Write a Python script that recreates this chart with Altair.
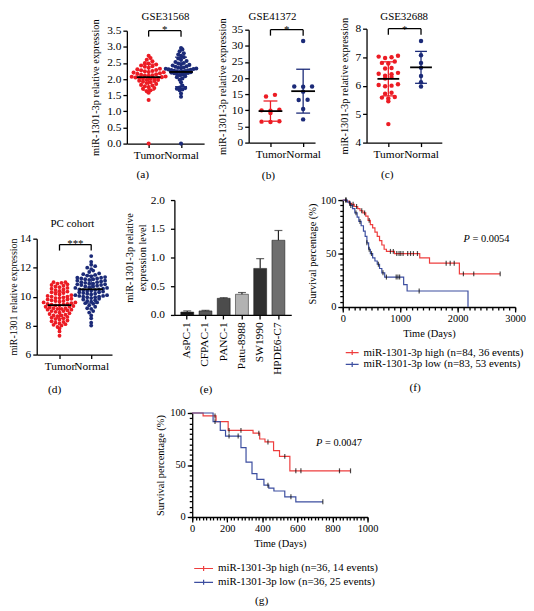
import altair as alt
import pandas as pd
import numpy as np

FONT = "Liberation Serif"
RED = "#EC1C24"
NAVY = "#1B2A78"
SRED = "#EE3E3E"
SBLUE = "#3C4EA0"

# ---------------- data ----------------
# (a) GSE31568
a_tumor = [0.0, 1.35, 1.58, 1.62, 1.65, 1.70, 1.72, 1.75, 1.78, 1.80, 1.82, 1.85, 1.88, 1.90, 1.92,
           1.94, 1.95, 1.97, 1.98, 2.00, 2.01, 2.02, 2.03, 2.04, 2.05, 2.06, 2.07, 2.08, 2.10, 2.11,
           2.12, 2.13, 2.15, 2.16, 2.18, 2.20, 2.21, 2.22, 2.24, 2.25, 2.27, 2.28, 2.30, 2.32, 2.35,
           2.38, 2.40, 2.42, 2.45, 2.48, 2.50, 2.55, 2.60, 2.65, 2.72]
a_normal = [0.0, 1.45, 1.55, 1.65, 1.68, 1.70, 1.72, 1.74, 1.80, 1.90, 1.98, 2.02, 2.06, 2.09, 2.12,
            2.14, 2.16, 2.17, 2.18, 2.19, 2.20, 2.21, 2.22, 2.23, 2.24, 2.25, 2.26, 2.27, 2.28, 2.29,
            2.30, 2.31, 2.32, 2.33, 2.34, 2.35, 2.36, 2.38, 2.40, 2.42, 2.44, 2.46, 2.48, 2.50, 2.53,
            2.56, 2.60, 2.64, 2.68, 2.72, 2.76, 2.80, 2.86, 2.92, 2.96]
# (b) GSE41372
b_tumor = [14.3, 14.8, 10.0, 10.2, 9.9, 9.2, 6.6, 6.4, 6.5]
b_normal = [31.5, 17.4, 17.4, 17.3, 15.8, 13.3, 13.2, 10.4, 7.2]
# (c) GSE32688
c_tumor = [7.05, 7.02, 7.0, 6.97, 6.85, 6.8, 6.78, 6.62, 6.6, 6.45, 6.42, 6.4, 6.35, 6.3, 6.25,
           6.05, 6.02, 6.0, 5.98, 5.75, 5.72, 5.6, 5.58, 5.55, 5.45, 4.65]
c_normal = [7.57, 7.07, 6.8, 6.63, 6.34, 6.12, 5.97]
# (d) PC cohort
d_tumor = [7.3, 7.6, 7.8, 7.9, 8.0, 8.1, 8.2, 8.25, 8.3, 8.4, 8.45, 8.5, 8.55, 8.6, 8.65, 8.7, 8.75,
           8.8, 8.85, 8.9, 8.95, 9.0, 9.0, 9.05, 9.1, 9.1, 9.15, 9.2, 9.2, 9.25, 9.3, 9.3, 9.35, 9.4,
           9.4, 9.45, 9.5, 9.5, 9.55, 9.6, 9.6, 9.65, 9.7, 9.7, 9.75, 9.8, 9.8, 9.85, 9.9, 9.9, 9.95,
           10.0, 10.0, 10.05, 10.1, 10.15, 10.2, 10.25, 10.3, 10.35, 10.4, 10.45, 10.5, 10.55, 10.6,
           10.65, 10.7, 10.75, 10.8, 10.85, 10.9, 10.95, 11.0, 11.0, 8.35, 8.15, 9.15, 8.7, 9.45, 8.05]
d_normal = [8.0, 8.2, 8.5, 8.9, 9.0, 9.2, 9.3, 9.4, 9.5, 9.6, 9.65, 9.7, 9.75, 9.8, 9.85, 9.9, 9.95,
            10.0, 10.0, 10.05, 10.1, 10.1, 10.15, 10.2, 10.2, 10.25, 10.3, 10.3, 10.35, 10.4, 10.4,
            10.45, 10.5, 10.5, 10.55, 10.6, 10.6, 10.65, 10.7, 10.7, 10.75, 10.8, 10.8, 10.85, 10.9,
            10.9, 10.95, 11.0, 11.0, 11.05, 11.1, 11.1, 11.15, 11.2, 11.2, 11.25, 11.3, 11.3, 11.35,
            11.4, 11.45, 11.5, 11.55, 11.6, 11.7, 11.8, 11.9, 12.0, 12.1, 12.2, 12.4, 12.8, 9.55, 9.95,
            10.45, 10.85, 11.25, 9.15, 8.7, 10.05]
# (e) cell lines
e_lines = ["AsPC-1", "CFPAC-1", "PANC-1", "Patu-8988", "SW1990", "HPDE6-C7"]
e_mean = [0.05, 0.07, 0.29, 0.36, 0.81, 1.30]
e_err = [0.02, 0.01, 0.01, 0.03, 0.17, 0.17]
e_palette = ["#151515", "#585858", "#4c4c4c", "#b2b2b2", "#303030", "#6e6e6e"]
# (f) survival
f_names = ["miR-1301-3p high (n=84, 36 events)", "miR-1301-3p low (n=83, 53 events)"]
f_high_t = [0, 60, 110, 150, 200, 260, 300, 350, 400, 440, 480, 520, 560, 600, 640, 680, 720, 760,
            900, 1340, 1510, 2030, 2740]
f_high_s = [100, 99, 97, 96, 94, 92, 90, 88, 85, 81, 77, 74, 70, 66, 62, 58, 54, 52, 50, 46, 41, 31, 31]
f_low_t = [0, 80, 130, 170, 210, 250, 280, 320, 360, 390, 420, 450, 480, 520, 560, 600, 640, 680,
           730, 1060, 1120, 2180]
f_low_s = [100, 98, 95, 92, 88, 84, 80, 76, 71, 66, 60, 54, 50, 46, 43, 40, 36, 32, 28, 21, 15, 0]
f_high_cens = [50, 120, 180, 240, 330, 380, 460, 830, 880, 940, 980, 1010, 1050, 1130, 1180, 1230,
               1300, 1800, 1870, 1940, 2100, 2280, 2740]
f_low_cens = [60, 140, 230, 300, 420, 460, 500, 620, 700, 760, 930, 960, 990, 1330]
# (g) survival
g_names = ["miR-1301-3p high (n=36, 14 events)", "miR-1301-3p low (n=36, 25 events)"]
g_high_t = [0, 62, 136, 205, 347, 385, 415, 464, 498, 557, 903]
g_high_s = [100, 97.2, 91.7, 83.3, 80.6, 75.0, 72.2, 63.9, 58.3, 44.4, 44.4]
g_low_t = [0, 119, 160, 190, 278, 307, 341, 369, 409, 437, 466, 528, 591, 745]
g_low_s = [100, 91.7, 83.3, 77.8, 66.7, 52.8, 41.7, 36.1, 30.6, 27.8, 25.0, 19.4, 14.6, 14.6]
g_high_cens = [130, 210, 278, 380, 432, 528, 591, 620, 840, 903]
g_low_cens = [130, 210, 262, 432, 563, 745]

# ---------------- canvas (one view, each panel gets its own pixel range) ----------------
WT, HT, M = 522, 600, 8   # view size and page margin


def row_offsets(vals, base, bw, sp):
    arr = np.asarray(vals, dtype=float)
    bins = np.floor((arr - base) / bw + 0.5).astype(int)
    offs = np.zeros(len(arr))
    for b in np.unique(bins):
        idx = np.where(bins == b)[0]
        idx = idx[np.argsort(arr[idx], kind="stable")]
        k = len(idx)
        slots = [(j - (k - 1) / 2.0) * sp for j in range(k)]
        order = sorted(range(k), key=lambda j: (abs(slots[j]), slots[j]))
        for i, j in zip(idx, order):
            offs[i] = slots[j]
    return offs


def txt(text, x, y, size=11.5, **kw):
    return alt.Chart(pd.DataFrame({"z": [0]})).mark_text(text=text, fontSize=size, **kw).encode(
        x=alt.value(x), y=alt.value(y))


def dot_panel(box, tumor, normal, ymin, ymax, yvals, fmt, ytitle, lp, s, size, bw, sps,
              title, title_xy, stars, br_y, plabel, lab_xy, mean_hw, cap_hw, title_pad,
              ytitle_size=10.5, star_dy=2):
    x0, x1, y0, y1 = [v - M for v in box]
    W = x1 - x0
    L = lp / s
    R = (W - lp - s) / s
    xsc = alt.Scale(domain=[-L, 1 + R], range=[x0, x1], nice=False, zero=False)
    ysc = alt.Scale(domain=[ymin, ymax], range=[y1, y0], nice=False, zero=False)
    rows, stats = [], []
    for gi, (vals, col, sp) in enumerate([(tumor, RED, sps[0]), (normal, NAVY, sps[1])]):
        offs = row_offsets(vals, ymin, bw, sp)
        for v, o in zip(vals, offs):
            rows.append({"x": gi + o / s, "v": v, "col": col})
        arr = np.asarray(vals, dtype=float)
        m = arr.mean()
        sd = arr.std(ddof=1)
        stats.append({"x": gi, "m": m, "lo": m - sd, "hi": m + sd, "col": col,
                      "mx1": gi - mean_hw / s, "mx2": gi + mean_hw / s,
                      "cx1": gi - cap_hw / s, "cx2": gi + cap_hw / s})
    pts = pd.DataFrame(rows)
    st = pd.DataFrame(stats)
    br = pd.DataFrame({"x0": [0.0], "x1": [1.0], "xm": [0.5]})

    xaxis = alt.Axis(values=[0, 1], labelExpr="datum.value == 0 ? 'Tumor' : 'Normal'", title=None,
                     labelFlush=False, labelOverlap=False, labelFontSize=11.5, tickSize=4,
                     labelPadding=2, orient="bottom", offset=y1 - HT)
    yaxis = alt.Axis(values=yvals, format=fmt, title=ytitle, labelFlush=False, labelOverlap=False,
                     labelFontSize=11.5, tickSize=4, labelPadding=2, titlePadding=title_pad,
                     titleFontSize=ytitle_size, orient="left", offset=-x0)

    def X(f):
        return alt.X(f, type="quantitative", scale=xsc, axis=None)

    def Y(f):
        return alt.Y(f, type="quantitative", scale=ysc, axis=None)

    points = alt.Chart(pts).mark_circle(size=size, opacity=1).encode(
        x=alt.X("x:Q", scale=xsc, axis=xaxis),
        y=alt.Y("v:Q", scale=ysc, axis=yaxis),
        color=alt.Color("col:N", scale=None))
    sdbar = alt.Chart(st).mark_rule(strokeWidth=1.3).encode(
        x=X("x"), y=Y("lo"), y2="hi:Q", color=alt.Color("col:N", scale=None))
    caplo = alt.Chart(st).mark_rule(strokeWidth=1.3).encode(
        x=X("cx1"), x2="cx2:Q", y=Y("lo"), color=alt.Color("col:N", scale=None))
    caphi = alt.Chart(st).mark_rule(strokeWidth=1.3).encode(
        x=X("cx1"), x2="cx2:Q", y=Y("hi"), color=alt.Color("col:N", scale=None))
    mean = alt.Chart(st).mark_rule(strokeWidth=1.8, color="black").encode(
        x=X("mx1"), x2="mx2:Q", y=Y("m"))
    by = y0 + br_y
    br_h = alt.Chart(br).mark_rule(strokeWidth=1.3, color="black").encode(
        x=X("x0"), x2="x1:Q", y=alt.value(by))
    br_l = alt.Chart(br).mark_rule(strokeWidth=1.3, color="black").encode(
        x=X("x0"), y=alt.value(by), y2=alt.value(by + 6))
    br_r = alt.Chart(br).mark_rule(strokeWidth=1.3, color="black").encode(
        x=X("x1"), y=alt.value(by), y2=alt.value(by + 6))
    star = alt.Chart(br).mark_text(text=stars, fontSize=11, baseline="alphabetic").encode(
        x=X("xm"), y=alt.value(by + star_dy))
    ttl = txt(title, title_xy[0] - M, title_xy[1] - M, size=11)
    lab = txt(plabel, lab_xy[0] - M, lab_xy[1] - M)
    return alt.layer(points, sdbar, caplo, caphi, mean, br_h, br_l, br_r, star, ttl, lab).resolve_axis(
        x="independent", y="independent")


def step_at(ts, ss, t):
    k = max(i for i in range(len(ts)) if ts[i] <= t)
    return ss[k]


def surv_panel(box, hi_t, hi_s, lo_t, lo_s, hi_c, lo_c, names, xmax, xmajor, xminor, ptxt,
               p_xy, line_start, symlen, row_gap, plabel, lab_xy, ytitle_pad):
    x0, x1, y0, y1 = [v - M for v in box]
    xsc = alt.Scale(domain=[0, xmax], range=[x0, x1], nice=False, zero=False)
    ysc = alt.Scale(domain=[0, 100], range=[y1, y0], nice=False)
    rows = [{"t": t, "s": s, "grp": names[0]} for t, s in zip(hi_t, hi_s)]
    rows += [{"t": t, "s": s, "grp": names[1]} for t, s in zip(lo_t, lo_s)]
    ldf = pd.DataFrame(rows)
    crow = [{"t": t, "s": step_at(hi_t, hi_s, t)} for t in hi_c]
    crow += [{"t": t, "s": step_at(lo_t, lo_s, t)} for t in lo_c]
    cdf = pd.DataFrame(crow)
    h = 12.0                       # legend symbol box
    k = symlen / h                 # line extends k * radius each way
    sym = "M-%.3f,0H%.3fM0,-0.42V0.42" % (k, k)
    legend = alt.Legend(orient="none", legendX=line_start[0] - M - (h / 2 - symlen / 2),
                        legendY=line_start[1] - M, title=None,
                        symbolType=sym, symbolSize=h * h,
                        symbolStrokeWidth=1.2, labelFontSize=11, labelOffset=symlen / 2 - h / 2 + 4,
                        labelLimit=400, rowPadding=row_gap, padding=0, labelFont=FONT,
                        labelColor="black")
    lines = alt.Chart(ldf).mark_line(interpolate="step-after", strokeWidth=1.2).encode(
        x=alt.X("t:Q", scale=xsc, axis=alt.Axis(values=xmajor, format="d", title="Time (Days)",
                                               labelFlush=False, labelOverlap=False, labelFontSize=10.5,
                                               tickSize=5, labelPadding=2, titleFontSize=10.5,
                                               titlePadding=4, orient="bottom", offset=y1 - HT)),
        y=alt.Y("s:Q", scale=ysc, axis=alt.Axis(values=[0, 50, 100], format="d",
                                               title="Survival percentage (%)",
                                               labelFlush=False, labelOverlap=False, labelFontSize=10.5,
                                               tickSize=5, labelPadding=2, titleFontSize=10.5,
                                               titlePadding=ytitle_pad, orient="left", offset=-x0)),
        color=alt.Color("grp:N", scale=alt.Scale(domain=names, range=[SRED, SBLUE]), legend=legend))
    minor = alt.Chart(cdf).mark_point(opacity=0).encode(
        x=alt.X("t:Q", scale=xsc, axis=alt.Axis(values=xminor, labels=False, domain=False, tickSize=3,
                                               title=None, orient="bottom", offset=y1 - HT)),
        y=alt.Y("s:Q", scale=ysc, axis=alt.Axis(values=list(range(0, 101, 5)), labels=False,
                                               domain=False, tickSize=3, title=None, orient="left",
                                               offset=-x0)))
    cens = alt.Chart(cdf).mark_tick(orient="vertical", color="black", size=5, thickness=1.2).encode(
        x=alt.X("t:Q", scale=xsc, axis=None), y=alt.Y("s:Q", scale=ysc, axis=None))
    p1 = txt("P", p_xy[0] - M, p_xy[1] - M, size=10.5, fontStyle="italic", align="left")
    p2 = txt("= " + ptxt, p_xy[0] - M + 9, p_xy[1] - M, size=10.5, align="left")
    lab = txt(plabel, lab_xy[0] - M, lab_xy[1] - M)
    return alt.layer(lines, minor, cens, p1, p2, lab).resolve_axis(x="independent", y="independent")


# ---------------- panels (boxes in page pixels: x0, x1, y0 (top), y1 (bottom)) ----------------
pa = dot_panel((127, 205, 27, 141), a_tumor, a_normal, 0, 3.5, [0, 0.5, 1, 1.5, 2, 2.5, 3, 3.5], ".1f",
               "miR-1301-3p relative expression", 22, 32.7, 17, 0.12, (3.8, 2.8),
               "GSE31568", (166, 13.5), "*", 0, "(a)", (143, 173), 12, 6, 6)
pb = dot_panel((250, 317, 26, 140), b_tumor, b_normal, 0, 35, [0, 5, 10, 15, 20, 25, 30, 35], "d",
               "miR-1301-3p relative expression", 22, 33, 20, 1.5, (9, 9),
               "GSE41372", (274, 13.5), "*", 0, "(b)", (270, 174), 12, 7, 4, star_dy=3)
pc = dot_panel((369, 445, 25, 140), c_tumor, c_normal, 4, 8, [4, 5, 6, 7, 8], "d",
               "miR-1301-3p relative expression", 22, 33, 20, 0.2, (6.5, 6.5),
               "GSE32688", (407, 13.5), "*", 0, "(c)", (390, 173), 11, 6, 5, star_dy=4)
pdd = dot_panel((36, 112, 237, 354), d_tumor, d_normal, 6, 14, [6, 8, 10, 12, 14], "d",
                "miR-1301 relative expression", 23, 32, 15, 0.25, (4, 4),
                "PC cohort", (72, 222), "***", 6, "(d)", (54, 390), 12, 6, 1, ytitle_size=10)

ex0, ex1, ey0, ey1 = 175 - M, 293 - M, 198 - M, 314 - M
e_df = pd.DataFrame({"line": e_lines, "val": e_mean, "err": e_err, "col": e_palette})
e_df["top"] = e_df["val"] + e_df["err"]
xs_e = alt.Scale(domain=e_lines, range=[ex0, ex1], paddingInner=0.29, paddingOuter=0.35)
ys_e = alt.Scale(domain=[0, 2], range=[ey1, ey0], nice=False)
e_bars = alt.Chart(e_df).mark_bar(stroke="#111111", strokeWidth=0.5).encode(
    x=alt.X("line:N", scale=xs_e, sort=e_lines,
            axis=alt.Axis(title=None, labelAngle=270, labelFontSize=11.5, tickSize=4, labelPadding=3,
                          orient="bottom", offset=ey1 - HT)),
    y=alt.Y("val:Q", scale=ys_e,
            axis=alt.Axis(values=[0, 0.5, 1, 1.5, 2], format=".1f",
                          title=["miR-1301-3p relative", "expression level"], labelFontSize=11.5,
                          tickSize=4, labelPadding=6, titleFontSize=10.5, titlePadding=3,
                          labelFlush=False, orient="left", offset=-ex0)),
    color=alt.Color("col:N", scale=None))
e_rule = alt.Chart(e_df).mark_rule(color="#222222", strokeWidth=1.2).encode(
    x=alt.X("line:N", scale=xs_e, sort=e_lines, axis=None),
    y=alt.Y("val:Q", scale=ys_e, axis=None), y2="top:Q")
e_cap = alt.Chart(e_df).mark_tick(color="#222222", thickness=1.2, size=8).encode(
    x=alt.X("line:N", scale=xs_e, sort=e_lines, axis=None),
    y=alt.Y("top:Q", scale=ys_e, axis=None))
pe = alt.layer(e_bars, e_rule, e_cap, txt("(e)", 207 - M, 390 - M)).resolve_axis(
    x="independent", y="independent")

pf = surv_panel((345, 519, 198, 306), f_high_t, f_high_s, f_low_t, f_low_s, f_high_cens, f_low_cens,
                f_names, 3000, [0, 1000, 2000, 3000], list(range(0, 3001, 100)), "0.0054",
                (467, 237), (347, 345), 13, 0, "(f)", (418, 388), 3)
pg = surv_panel((193, 370, 413, 518), g_high_t, g_high_s, g_low_t, g_low_s, g_high_cens, g_low_cens,
                g_names, 1000, [0, 200, 400, 600, 800, 1000], list(range(0, 1001, 20)), "0.0047",
                (318, 443), (194, 563), 19, 2, "(g)", (263, 603), 4)

chart = alt.layer(pa, pb, pc, pdd, pe, pf, pg).resolve_scale(
    x="independent", y="independent", color="independent").resolve_axis(
    x="independent", y="independent").properties(width=WT, height=HT, padding=0).configure(
    font=FONT).configure_view(stroke="transparent").configure_axis(
    domainColor="black", domainWidth=1.3, tickColor="black", tickWidth=1.3, labelColor="black",
    titleColor="black", labelFont=FONT, titleFont=FONT, titleFontWeight="normal", grid=False).configure_text(
    font=FONT, color="black")

chart.save("out.html", embed_options={"renderer": "svg", "actions": False})
